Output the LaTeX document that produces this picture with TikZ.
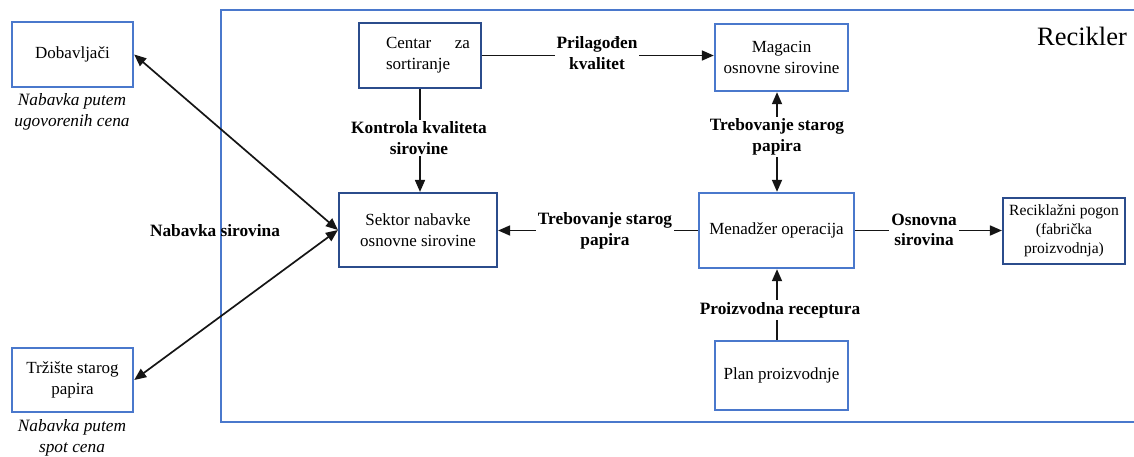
\documentclass[tikz,border=0pt]{standalone}
\usepackage{fontspec}
\setmainfont{Liberation Serif}
\usetikzlibrary{arrows.meta,calc}
\definecolor{lblue}{HTML}{4A78CC}
\definecolor{dblue}{HTML}{2B4C8C}
\definecolor{ink}{HTML}{151515}
\begin{document}
\begin{tikzpicture}[x=1pt,y=-1pt,
  lbox/.style={draw=lblue,line width=2.4pt,fill=white,inner sep=2pt,align=center,
    font=\fontsize{17}{21}\selectfont},
  dbox/.style={draw=dblue,line width=2.2pt,fill=white,inner sep=2pt,align=center,
    font=\fontsize{17}{21}\selectfont},
  lab/.style={fill=white,inner sep=2pt,align=center,font=\fontsize{17.3}{20.5}\selectfont\bfseries},
  captext/.style={inner sep=0pt,align=center,font=\fontsize{17.3}{21}\selectfont\itshape},
  conn/.style={draw=ink,line width=1.7pt},
  tip/.style={-{Triangle[length=12pt,width=10pt]}},
  tips/.style={{Triangle[length=12pt,width=10pt]}-{Triangle[length=12pt,width=10pt]}}]
\useasboundingbox (0,0) rectangle (1134,456);
\fill[white] (0,0) rectangle (1134,456);
% frame
\draw[lblue,line width=2.2pt] (1140,10) -- (221,10) -- (221,422) -- (1140,422);
\node[anchor=center,inner sep=0pt,font=\fontsize{26.5}{30}\selectfont] (rtitle) at (1082,36) {Recikler};
% boxes
\node[lbox,minimum width=121pt,minimum height=65pt] (dob) at (72.5,54.5) {Dobavljači};
\node[lbox,minimum width=121pt,minimum height=64pt] (trz) at (72.5,380) {Tržište starog\\papira};
\node[dbox,minimum width=158pt,minimum height=74pt] (sek) at (418,230) {Sektor nabavke\\osnovne sirovine};
\node[dbox,minimum width=122pt,minimum height=65pt] (cen) at (420,55.5)
  {\hspace*{16pt}\makebox[84pt][s]{Centar\hfill za}\\\hspace*{16pt}\makebox[84pt][l]{sortiranje}};
\node[lbox,minimum width=133pt,minimum height=67pt] (mag) at (781.5,57.5) {Magacin\\osnovne sirovine};
\node[lbox,minimum width=155pt,minimum height=75pt] (men) at (776.5,230.5) {Menadžer operacija};
\node[dbox,minimum width=122pt,minimum height=66pt,font=\fontsize{15.6}{19}\selectfont] (rec) at (1064,231)
  {Reciklažni pogon\\(fabrička\\proizvodnja)};
\node[lbox,minimum width=133pt,minimum height=69pt] (plan) at (781.5,375.5) {Plan proizvodnje};
% captions
\node[captext] (dobcap) at (72,112) {Nabavka putem\\ugovorenih cena};
\node[captext] (trzcap) at (72,438) {Nabavka putem\\spot cena};
% connectors
\draw[conn,tip] (cen.east) -- (cen.east -| mag.west);
\node[lab] (pril) at (597,53) {Prilagođen\\kvalitet};
\draw[conn,tip] (cen.south) -- (cen.south |- sek.north);
\node[lab] (kont) at (419,138) {Kontrola kvaliteta\\sirovine};
\draw[conn,tip] (men.west) -- (men.west -| sek.east);
\node[lab] (treb1) at (605,231) {Trebovanje starog\\papira};
\coordinate (mx) at (777,0);
\draw[conn,tips] (mx |- mag.south) -- (mx |- men.north);
\node[lab] (treb2) at (777,137) {Trebovanje starog\\papira};
\draw[conn,tip] (men.east) -- (men.east -| rec.west);
\node[lab] (osn) at (924,230) {Osnovna\\sirovina};
\draw[conn,tip] (mx |- plan.north) -- (mx |- men.south);
\node[lab] (proiz) at (780,310) {Proizvodna receptura};
\draw[conn,tips] (dob.east) -- (sek.west);
\draw[conn,tips] (trz.east) -- (sek.west);
\node[lab,fill=none] (nab) at (215,231) {Nabavka sirovina};
\end{tikzpicture}
\end{document}
